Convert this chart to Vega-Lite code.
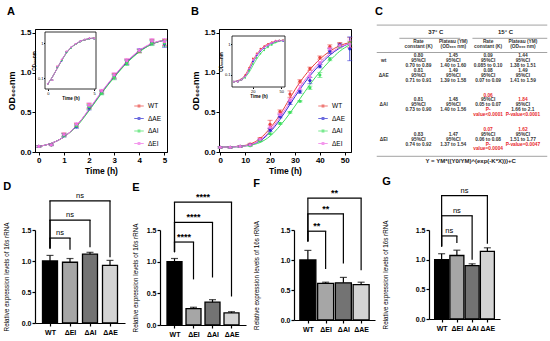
{
"$schema": "https://vega.github.io/schema/vega-lite/v6.json",
"padding": {"left": 3, "top": 5, "right": 0, "bottom": 0},
"config": {"font": "Liberation Sans", "view": {"stroke": null}, "axis": {"grid": false, "domainColor": "#000", "tickColor": "#000", "labelColor": "#000", "titleColor": "#000", "labelFont": "Liberation Sans", "titleFont": "Liberation Sans"}, "title": {"color": "#000", "font": "Liberation Sans"}, "legend": {"labelFont": "Liberation Sans"}},
"datasets": {
"fitA": [
{"strain":"WT","t":0,"od":0.07},{"strain":"WT","t":0.5,"od":0.11},{"strain":"WT","t":1,"od":0.19},{"strain":"WT","t":1.5,"od":0.33},{"strain":"WT","t":2,"od":0.53},{"strain":"WT","t":2.5,"od":0.75},{"strain":"WT","t":3,"od":0.95},{"strain":"WT","t":3.5,"od":1.13},{"strain":"WT","t":4,"od":1.27},{"strain":"WT","t":4.5,"od":1.36},{"strain":"WT","t":5,"od":1.41},
{"strain":"ΔAE","t":0,"od":0.07},{"strain":"ΔAE","t":0.5,"od":0.11},{"strain":"ΔAE","t":1,"od":0.19},{"strain":"ΔAE","t":1.5,"od":0.33},{"strain":"ΔAE","t":2,"od":0.53},{"strain":"ΔAE","t":2.5,"od":0.75},{"strain":"ΔAE","t":3,"od":0.95},{"strain":"ΔAE","t":3.5,"od":1.13},{"strain":"ΔAE","t":4,"od":1.27},{"strain":"ΔAE","t":4.5,"od":1.36},{"strain":"ΔAE","t":5,"od":1.41},
{"strain":"ΔAI","t":0,"od":0.07},{"strain":"ΔAI","t":0.5,"od":0.11},{"strain":"ΔAI","t":1,"od":0.19},{"strain":"ΔAI","t":1.5,"od":0.32},{"strain":"ΔAI","t":2,"od":0.52},{"strain":"ΔAI","t":2.5,"od":0.74},{"strain":"ΔAI","t":3,"od":0.94},{"strain":"ΔAI","t":3.5,"od":1.12},{"strain":"ΔAI","t":4,"od":1.26},{"strain":"ΔAI","t":4.5,"od":1.36},{"strain":"ΔAI","t":5,"od":1.41},
{"strain":"ΔEI","t":0,"od":0.07},{"strain":"ΔEI","t":0.5,"od":0.11},{"strain":"ΔEI","t":1,"od":0.19},{"strain":"ΔEI","t":1.5,"od":0.33},{"strain":"ΔEI","t":2,"od":0.54},{"strain":"ΔEI","t":2.5,"od":0.76},{"strain":"ΔEI","t":3,"od":0.96},{"strain":"ΔEI","t":3.5,"od":1.14},{"strain":"ΔEI","t":4,"od":1.28},{"strain":"ΔEI","t":4.5,"od":1.37},{"strain":"ΔEI","t":5,"od":1.41}
],
"ptsA": [
{"strain":"WT","t":0,"od":0.07,"err":0.01},{"strain":"WT","t":0.5,"od":0.09,"err":0.01},{"strain":"WT","t":1,"od":0.22,"err":0.02},{"strain":"WT","t":1.5,"od":0.34,"err":0.02},{"strain":"WT","t":2,"od":0.58,"err":0.03},{"strain":"WT","t":2.5,"od":0.76,"err":0.02},{"strain":"WT","t":3,"od":0.96,"err":0.03},{"strain":"WT","t":3.5,"od":1.14,"err":0.03},{"strain":"WT","t":4,"od":1.27,"err":0.02},{"strain":"WT","t":4.5,"od":1.39,"err":0.03},{"strain":"WT","t":5,"od":1.38,"err":0.04},
{"strain":"ΔAE","t":0,"od":0.07,"err":0.01},{"strain":"ΔAE","t":0.5,"od":0.09,"err":0.01},{"strain":"ΔAE","t":1,"od":0.21,"err":0.02},{"strain":"ΔAE","t":1.5,"od":0.32,"err":0.02},{"strain":"ΔAE","t":2,"od":0.56,"err":0.03},{"strain":"ΔAE","t":2.5,"od":0.75,"err":0.02},{"strain":"ΔAE","t":3,"od":0.95,"err":0.03},{"strain":"ΔAE","t":3.5,"od":1.13,"err":0.03},{"strain":"ΔAE","t":4,"od":1.28,"err":0.02},{"strain":"ΔAE","t":4.5,"od":1.38,"err":0.03},{"strain":"ΔAE","t":5,"od":1.36,"err":0.04},
{"strain":"ΔAI","t":0,"od":0.07,"err":0.01},{"strain":"ΔAI","t":0.5,"od":0.09,"err":0.01},{"strain":"ΔAI","t":1,"od":0.21,"err":0.02},{"strain":"ΔAI","t":1.5,"od":0.33,"err":0.02},{"strain":"ΔAI","t":2,"od":0.57,"err":0.03},{"strain":"ΔAI","t":2.5,"od":0.74,"err":0.02},{"strain":"ΔAI","t":3,"od":0.94,"err":0.03},{"strain":"ΔAI","t":3.5,"od":1.12,"err":0.03},{"strain":"ΔAI","t":4,"od":1.27,"err":0.02},{"strain":"ΔAI","t":4.5,"od":1.37,"err":0.03},{"strain":"ΔAI","t":5,"od":1.37,"err":0.04},
{"strain":"ΔEI","t":0,"od":0.07,"err":0.01},{"strain":"ΔEI","t":0.5,"od":0.09,"err":0.01},{"strain":"ΔEI","t":1,"od":0.22,"err":0.02},{"strain":"ΔEI","t":1.5,"od":0.35,"err":0.02},{"strain":"ΔEI","t":2,"od":0.59,"err":0.03},{"strain":"ΔEI","t":2.5,"od":0.77,"err":0.02},{"strain":"ΔEI","t":3,"od":0.97,"err":0.03},{"strain":"ΔEI","t":3.5,"od":1.15,"err":0.03},{"strain":"ΔEI","t":4,"od":1.28,"err":0.02},{"strain":"ΔEI","t":4.5,"od":1.4,"err":0.03},{"strain":"ΔEI","t":5,"od":1.39,"err":0.04}
],
"fitB": [
{"strain":"WT","t":0,"od":0.06},{"strain":"WT","t":4,"od":0.065},{"strain":"WT","t":8,"od":0.075},{"strain":"WT","t":12,"od":0.1},{"strain":"WT","t":16,"od":0.17},{"strain":"WT","t":20,"od":0.3},{"strain":"WT","t":24,"od":0.47},{"strain":"WT","t":28,"od":0.68},{"strain":"WT","t":32,"od":0.88},{"strain":"WT","t":36,"od":1.04},{"strain":"WT","t":40,"od":1.17},{"strain":"WT","t":44,"od":1.27},{"strain":"WT","t":48,"od":1.34},{"strain":"WT","t":52,"od":1.38},
{"strain":"ΔAE","t":0,"od":0.06},{"strain":"ΔAE","t":4,"od":0.063},{"strain":"ΔAE","t":8,"od":0.07},{"strain":"ΔAE","t":12,"od":0.09},{"strain":"ΔAE","t":16,"od":0.14},{"strain":"ΔAE","t":20,"od":0.25},{"strain":"ΔAE","t":24,"od":0.41},{"strain":"ΔAE","t":28,"od":0.6},{"strain":"ΔAE","t":32,"od":0.79},{"strain":"ΔAE","t":36,"od":0.96},{"strain":"ΔAE","t":40,"od":1.1},{"strain":"ΔAE","t":44,"od":1.22},{"strain":"ΔAE","t":48,"od":1.31},{"strain":"ΔAE","t":52,"od":1.37},
{"strain":"ΔAI","t":0,"od":0.06},{"strain":"ΔAI","t":4,"od":0.062},{"strain":"ΔAI","t":8,"od":0.068},{"strain":"ΔAI","t":12,"od":0.085},{"strain":"ΔAI","t":16,"od":0.12},{"strain":"ΔAI","t":20,"od":0.2},{"strain":"ΔAI","t":24,"od":0.33},{"strain":"ΔAI","t":28,"od":0.49},{"strain":"ΔAI","t":32,"od":0.67},{"strain":"ΔAI","t":36,"od":0.85},{"strain":"ΔAI","t":40,"od":1.01},{"strain":"ΔAI","t":44,"od":1.15},{"strain":"ΔAI","t":48,"od":1.27},{"strain":"ΔAI","t":52,"od":1.35},
{"strain":"ΔEI","t":0,"od":0.06},{"strain":"ΔEI","t":4,"od":0.063},{"strain":"ΔEI","t":8,"od":0.07},{"strain":"ΔEI","t":12,"od":0.09},{"strain":"ΔEI","t":16,"od":0.15},{"strain":"ΔEI","t":20,"od":0.27},{"strain":"ΔEI","t":24,"od":0.44},{"strain":"ΔEI","t":28,"od":0.63},{"strain":"ΔEI","t":32,"od":0.82},{"strain":"ΔEI","t":36,"od":0.99},{"strain":"ΔEI","t":40,"od":1.13},{"strain":"ΔEI","t":44,"od":1.24},{"strain":"ΔEI","t":48,"od":1.32},{"strain":"ΔEI","t":52,"od":1.37}
],
"ptsB": [
{"strain":"WT","t":0,"od":0.06,"err":0.01},{"strain":"WT","t":4,"od":0.06,"err":0.01},{"strain":"WT","t":8,"od":0.07,"err":0.01},{"strain":"WT","t":12,"od":0.1,"err":0.01},{"strain":"WT","t":16,"od":0.17,"err":0.01},{"strain":"WT","t":20,"od":0.35,"err":0.05},{"strain":"WT","t":24,"od":0.51,"err":0.02},{"strain":"WT","t":28,"od":0.73,"err":0.04},{"strain":"WT","t":32,"od":0.89,"err":0.02},{"strain":"WT","t":36,"od":1.05,"err":0.02},{"strain":"WT","t":40,"od":1.19,"err":0.02},{"strain":"WT","t":44,"od":1.33,"err":0.02},{"strain":"WT","t":48,"od":1.36,"err":0.02},{"strain":"WT","t":52,"od":1.38,"err":0.06},
{"strain":"ΔAE","t":0,"od":0.06,"err":0.01},{"strain":"ΔAE","t":4,"od":0.06,"err":0.01},{"strain":"ΔAE","t":8,"od":0.07,"err":0.01},{"strain":"ΔAE","t":12,"od":0.09,"err":0.01},{"strain":"ΔAE","t":16,"od":0.15,"err":0.01},{"strain":"ΔAE","t":20,"od":0.28,"err":0.02},{"strain":"ΔAE","t":24,"od":0.45,"err":0.02},{"strain":"ΔAE","t":28,"od":0.62,"err":0.02},{"strain":"ΔAE","t":32,"od":0.76,"err":0.02},{"strain":"ΔAE","t":36,"od":0.9,"err":0.04},{"strain":"ΔAE","t":40,"od":1.08,"err":0.02},{"strain":"ΔAE","t":44,"od":1.27,"err":0.03},{"strain":"ΔAE","t":48,"od":1.35,"err":0.02},{"strain":"ΔAE","t":52,"od":1.3,"err":0.15},
{"strain":"ΔAI","t":0,"od":0.06,"err":0.01},{"strain":"ΔAI","t":4,"od":0.06,"err":0.01},{"strain":"ΔAI","t":8,"od":0.07,"err":0.01},{"strain":"ΔAI","t":12,"od":0.08,"err":0.01},{"strain":"ΔAI","t":16,"od":0.14,"err":0.01},{"strain":"ΔAI","t":20,"od":0.23,"err":0.01},{"strain":"ΔAI","t":24,"od":0.36,"err":0.01},{"strain":"ΔAI","t":28,"od":0.5,"err":0.01},{"strain":"ΔAI","t":32,"od":0.64,"err":0.01},{"strain":"ΔAI","t":36,"od":0.81,"err":0.02},{"strain":"ΔAI","t":40,"od":0.97,"err":0.03},{"strain":"ΔAI","t":44,"od":1.17,"err":0.02},{"strain":"ΔAI","t":48,"od":1.33,"err":0.02},{"strain":"ΔAI","t":52,"od":1.37,"err":0.02},
{"strain":"ΔEI","t":0,"od":0.06,"err":0.01},{"strain":"ΔEI","t":4,"od":0.06,"err":0.01},{"strain":"ΔEI","t":8,"od":0.07,"err":0.01},{"strain":"ΔEI","t":12,"od":0.09,"err":0.01},{"strain":"ΔEI","t":16,"od":0.16,"err":0.01},{"strain":"ΔEI","t":20,"od":0.31,"err":0.02},{"strain":"ΔEI","t":24,"od":0.47,"err":0.02},{"strain":"ΔEI","t":28,"od":0.65,"err":0.02},{"strain":"ΔEI","t":32,"od":0.8,"err":0.04},{"strain":"ΔEI","t":36,"od":0.95,"err":0.05},{"strain":"ΔEI","t":40,"od":1.12,"err":0.02},{"strain":"ΔEI","t":44,"od":1.3,"err":0.02},{"strain":"ΔEI","t":48,"od":1.34,"err":0.02},{"strain":"ΔEI","t":52,"od":1.36,"err":0.05}
],
"tableText": [
{"col":1.5,"line":0,"txt":"37° C","kind":"head","sig":"no"},{"col":3.5,"line":0,"txt":"15° C","kind":"head","sig":"no"},
{"col":1,"line":2,"txt":"Rate","kind":"cell","sig":"no"},{"col":2,"line":2,"txt":"Plateau (YM)","kind":"cell","sig":"no"},{"col":3,"line":2,"txt":"Rate","kind":"cell","sig":"no"},{"col":4,"line":2,"txt":"Plateau (YM)","kind":"cell","sig":"no"},
{"col":1,"line":3,"txt":"constant (K)","kind":"cell","sig":"no"},{"col":2,"line":3,"txt":"(OD₆₀₀ nm)","kind":"cell","sig":"no"},{"col":3,"line":3,"txt":"constant (K)","kind":"cell","sig":"no"},{"col":4,"line":3,"txt":"(OD₆₀₀ nm)","kind":"cell","sig":"no"},
{"col":0,"line":6,"txt":"wt","kind":"cell","sig":"no"},
{"col":1,"line":5,"txt":"0.80","kind":"cell","sig":"no"},{"col":1,"line":6,"txt":"95%CI","kind":"cell","sig":"no"},{"col":1,"line":7,"txt":"0.70 to 0.89","kind":"cell","sig":"no"},
{"col":2,"line":5,"txt":"1.45","kind":"cell","sig":"no"},{"col":2,"line":6,"txt":"95%CI","kind":"cell","sig":"no"},{"col":2,"line":7,"txt":"1.40 to 1.60","kind":"cell","sig":"no"},
{"col":3,"line":5,"txt":"0.09","kind":"cell","sig":"no"},{"col":3,"line":6,"txt":"95%CI","kind":"cell","sig":"no"},{"col":3,"line":7,"txt":"0.085 to 0.10","kind":"cell","sig":"no"},
{"col":4,"line":5,"txt":"1.44","kind":"cell","sig":"no"},{"col":4,"line":6,"txt":"95%CI","kind":"cell","sig":"no"},{"col":4,"line":7,"txt":"1.38 to 1.51","kind":"cell","sig":"no"},
{"col":0,"line":9,"txt":"ΔAE","kind":"cell","sig":"no"},
{"col":1,"line":8,"txt":"0.81","kind":"cell","sig":"no"},{"col":1,"line":9,"txt":"95%CI","kind":"cell","sig":"no"},{"col":1,"line":10,"txt":"0.71 to 0.91","kind":"cell","sig":"no"},
{"col":2,"line":8,"txt":"1.49","kind":"cell","sig":"no"},{"col":2,"line":9,"txt":"95%CI","kind":"cell","sig":"no"},{"col":2,"line":10,"txt":"1.39 to 1.58","kind":"cell","sig":"no"},
{"col":3,"line":8,"txt":"0.08","kind":"cell","sig":"no"},{"col":3,"line":9,"txt":"95%CI","kind":"cell","sig":"no"},{"col":3,"line":10,"txt":"0.07 to 0.09","kind":"cell","sig":"no"},
{"col":4,"line":8,"txt":"1.49","kind":"cell","sig":"no"},{"col":4,"line":9,"txt":"95%CI","kind":"cell","sig":"no"},{"col":4,"line":10,"txt":"1.41 to 1.59","kind":"cell","sig":"no"},
{"col":0,"line":15,"txt":"ΔAI","kind":"cell","sig":"no"},
{"col":1,"line":14,"txt":"0.81","kind":"cell","sig":"no"},{"col":1,"line":15,"txt":"95%CI","kind":"cell","sig":"no"},{"col":1,"line":16,"txt":"0.73 to 0.90","kind":"cell","sig":"no"},
{"col":2,"line":14,"txt":"1.48","kind":"cell","sig":"no"},{"col":2,"line":15,"txt":"95%CI","kind":"cell","sig":"no"},{"col":2,"line":16,"txt":"1.40 to 1.56","kind":"cell","sig":"no"},
{"col":3,"line":13,"txt":"0.06","kind":"cell","sig":"yes"},{"col":3,"line":14,"txt":"95%CI","kind":"cell","sig":"no"},{"col":3,"line":15,"txt":"0.05 to 0.07","kind":"cell","sig":"no"},{"col":3,"line":16,"txt":"P-","kind":"cell","sig":"yes"},{"col":3,"line":17,"txt":"value<0.0001","kind":"cell","sig":"yes"},
{"col":4,"line":14,"txt":"1.84","kind":"cell","sig":"yes"},{"col":4,"line":15,"txt":"95%CI","kind":"cell","sig":"no"},{"col":4,"line":16,"txt":"1.66 to 2.1","kind":"cell","sig":"no"},{"col":4,"line":17,"txt":"P-value<0.0001","kind":"cell","sig":"yes"},
{"col":0,"line":22,"txt":"ΔEI","kind":"cell","sig":"no"},
{"col":1,"line":21,"txt":"0.83","kind":"cell","sig":"no"},{"col":1,"line":22,"txt":"95%CI","kind":"cell","sig":"no"},{"col":1,"line":23,"txt":"0.74 to 0.92","kind":"cell","sig":"no"},
{"col":2,"line":21,"txt":"1.47","kind":"cell","sig":"no"},{"col":2,"line":22,"txt":"95%CI","kind":"cell","sig":"no"},{"col":2,"line":23,"txt":"1.37 to 1.54","kind":"cell","sig":"no"},
{"col":3,"line":20,"txt":"0.07","kind":"cell","sig":"yes"},{"col":3,"line":21,"txt":"95%CI","kind":"cell","sig":"no"},{"col":3,"line":22,"txt":"0.06 to 0.08","kind":"cell","sig":"no"},{"col":3,"line":23,"txt":"P-","kind":"cell","sig":"yes"},{"col":3,"line":24,"txt":"value=0.0004","kind":"cell","sig":"yes"},
{"col":4,"line":20,"txt":"1.62","kind":"cell","sig":"yes"},{"col":4,"line":21,"txt":"95%CI","kind":"cell","sig":"no"},{"col":4,"line":22,"txt":"1.51 to 1.77","kind":"cell","sig":"no"},{"col":4,"line":23,"txt":"P-value=0.0047","kind":"cell","sig":"yes"},
{"col":2.5,"line":26.3,"txt":"Y = YM*((Y0/YM)^(exp(-K*X)))+C","kind":"head","sig":"no"}
],
"tableLines": [
{"c0":-0.2,"c1":4.7,"line":-1.4},{"c0":0.45,"c1":2.2,"line":1.3},{"c0":2.55,"c1":4.7,"line":1.3},{"c0":-0.2,"c1":4.7,"line":4.2},{"c0":-0.2,"c1":4.7,"line":25.4}
],
"panelD": [
{"kind":"bar","pos":1,"strain":"WT","val":1.0,"val2":1.09},{"kind":"bar","pos":2,"strain":"ΔEI","val":0.98,"val2":1.04},{"kind":"bar","pos":3,"strain":"ΔAI","val":1.11,"val2":1.14},{"kind":"bar","pos":4,"strain":"ΔAE","val":0.93,"val2":1.01},
{"kind":"cap","pos":1,"val":1.09},{"kind":"cap","pos":2,"val":1.04},{"kind":"cap","pos":3,"val":1.14},{"kind":"cap","pos":4,"val":1.01},
{"kind":"hline","pos":1,"pos2":2,"val":1.37},{"kind":"hline","pos":1,"pos2":3,"val":1.66},{"kind":"hline","pos":1,"pos2":4,"val":1.97},
{"kind":"leg","pos":1,"val":1.37,"val2":1.2},{"kind":"leg","pos":2,"val":1.37,"val2":1.18},{"kind":"leg","pos":1,"val":1.66,"val2":1.2},{"kind":"leg","pos":3,"val":1.66,"val2":1.22},{"kind":"leg","pos":1,"val":1.97,"val2":1.2},{"kind":"leg","pos":4,"val":1.97,"val2":1.06},
{"kind":"lab","pos":1.5,"val":1.37,"label":"ns"},{"kind":"lab","pos":2,"val":1.66,"label":"ns"},{"kind":"lab","pos":2.5,"val":1.97,"label":"ns"}
],
"panelE": [
{"kind":"bar","pos":1,"strain":"WT","val":1.0,"val2":1.05},{"kind":"bar","pos":2,"strain":"ΔEI","val":0.26,"val2":0.28},{"kind":"bar","pos":3,"strain":"ΔAI","val":0.36,"val2":0.4},{"kind":"bar","pos":4,"strain":"ΔAE","val":0.19,"val2":0.21},
{"kind":"cap","pos":1,"val":1.05},{"kind":"cap","pos":2,"val":0.28},{"kind":"cap","pos":3,"val":0.4},{"kind":"cap","pos":4,"val":0.21},
{"kind":"hline","pos":1,"pos2":2,"val":1.31},{"kind":"hline","pos":1,"pos2":3,"val":1.62},{"kind":"hline","pos":1,"pos2":4,"val":1.94},
{"kind":"leg","pos":1,"val":1.31,"val2":1.15},{"kind":"leg","pos":2,"val":1.31,"val2":0.72},{"kind":"leg","pos":1,"val":1.62,"val2":1.15},{"kind":"leg","pos":3,"val":1.62,"val2":0.75},{"kind":"leg","pos":1,"val":1.94,"val2":1.15},{"kind":"leg","pos":4,"val":1.94,"val2":0.45},
{"kind":"lab","pos":1.5,"val":1.31,"label":"****"},{"kind":"lab","pos":2,"val":1.62,"label":"****"},{"kind":"lab","pos":2.5,"val":1.94,"label":"****"}
],
"panelF": [
{"kind":"bar","pos":1,"strain":"WT","val":1.0,"val2":1.16},{"kind":"bar","pos":2,"strain":"ΔEI","val":0.61,"val2":0.63},{"kind":"bar","pos":3,"strain":"ΔAI","val":0.62,"val2":0.71},{"kind":"bar","pos":4,"strain":"ΔAE","val":0.59,"val2":0.63},
{"kind":"cap","pos":1,"val":1.16},{"kind":"cap","pos":2,"val":0.63},{"kind":"cap","pos":3,"val":0.71},{"kind":"cap","pos":4,"val":0.63},
{"kind":"hline","pos":1,"pos2":2,"val":1.48},{"kind":"hline","pos":1,"pos2":3,"val":1.77},{"kind":"hline","pos":1,"pos2":4,"val":2.03},
{"kind":"leg","pos":1,"val":1.48,"val2":1.31},{"kind":"leg","pos":2,"val":1.48,"val2":0.85},{"kind":"leg","pos":1,"val":1.77,"val2":1.31},{"kind":"leg","pos":3,"val":1.77,"val2":0.94},{"kind":"leg","pos":1,"val":2.03,"val2":1.31},{"kind":"leg","pos":4,"val":2.03,"val2":0.83},
{"kind":"lab","pos":1.5,"val":1.48,"label":"**"},{"kind":"lab","pos":2,"val":1.77,"label":"**"},{"kind":"lab","pos":2.5,"val":2.03,"label":"**"}
],
"panelG": [
{"kind":"bar","pos":1,"strain":"WT","val":1.0,"val2":1.1},{"kind":"bar","pos":2,"strain":"ΔEI","val":1.07,"val2":1.16},{"kind":"bar","pos":3,"strain":"ΔAI","val":0.9,"val2":0.93},{"kind":"bar","pos":4,"strain":"ΔAE","val":1.14,"val2":1.2},
{"kind":"cap","pos":1,"val":1.1},{"kind":"cap","pos":2,"val":1.16},{"kind":"cap","pos":3,"val":0.93},{"kind":"cap","pos":4,"val":1.2},
{"kind":"hline","pos":1,"pos2":2,"val":1.4},{"kind":"hline","pos":1,"pos2":3,"val":1.74},{"kind":"hline","pos":1,"pos2":4,"val":2.08},
{"kind":"leg","pos":1,"val":1.4,"val2":1.22},{"kind":"leg","pos":2,"val":1.4,"val2":1.28},{"kind":"leg","pos":1,"val":1.74,"val2":1.22},{"kind":"leg","pos":3,"val":1.74,"val2":1.0},{"kind":"leg","pos":1,"val":2.08,"val2":1.22},{"kind":"leg","pos":4,"val":2.08,"val2":1.27},
{"kind":"lab","pos":1.5,"val":1.4,"label":"ns"},{"kind":"lab","pos":2,"val":1.74,"label":"ns"},{"kind":"lab","pos":2.5,"val":2.08,"label":"ns"}
]
},
"resolve": {"scale": {"color": "independent"}},
"spacing": 0,
"vconcat": [
{
"spacing": 22,
"resolve": {"scale": {"color": "independent"}},
"hconcat": [
{
"width": 132, "height": 123,
"title": {"text": "A", "anchor": "start", "fontSize": 11, "fontWeight": "bold", "offset": 12},
"view": {"stroke": "black", "strokeWidth": 1},
"resolve": {"scale": {"x": "independent", "y": "independent"}},
"layer": [
{"encoding": {"x": {"field": "t", "type": "quantitative", "scale": {"domain": [-0.15, 5.1], "nice": false, "zero": false}, "axis": {"values": [0,1,2,3,4,5], "title": "Time (h)", "labelFontSize": 8, "labelFontWeight": "bold", "titleFontSize": 8.5, "titleFontWeight": "bold", "tickSize": 3, "labelPadding": 1, "titlePadding": 2}},
  "y": {"field": "od", "type": "quantitative", "scale": {"domain": [0, 1.55], "nice": false}, "axis": {"values": [0,0.5,1,1.5], "format": ".1f", "title": "OD₆₀₀nm", "labelFontSize": 8, "labelFontWeight": "bold", "titleFontSize": 9, "titleFontWeight": "bold", "tickSize": 3, "labelPadding": 1, "titleX": -19, "titleY": 61.5, "titleAngle": 270, "titleBaseline": "bottom", "titleAlign": "center"}}},
"layer": [
{"data": {"name": "fitA"}, "mark": {"type": "line", "interpolate": "monotone", "strokeWidth": 1},
 "encoding": {"color": {"field": "strain", "type": "nominal", "scale": {"domain": ["WT","ΔAE","ΔAI","ΔEI"], "range": ["#e8413c","#2d2dd2","#3fdf5f","#f06ee6"]}}}},
{"data": {"name": "ptsA"}, "mark": {"type": "errorbar", "ticks": true, "thickness": 0.8},
 "encoding": {"yError": {"field": "err"}, "color": {"field": "strain", "type": "nominal"}}},
{"data": {"name": "ptsA"}, "mark": {"type": "point", "filled": true, "size": 10, "opacity": 1},
 "encoding": {"color": {"field": "strain", "type": "nominal", "legend": {"orient": "bottom-right", "offset": 5, "title": null, "labelFontSize": 6.5, "symbolType": "M-1,-0.1H1V0.1H-1Z M-0.3,-0.3H0.3V0.3H-0.3Z", "symbolSize": 90, "symbolStrokeWidth": 0, "rowPadding": 3.5, "labelOffset": 4, "encode": {"labels": {"fill": {"value": {"expr": "datum.value == 'WT' ? '#e8413c' : datum.value == 'ΔAE' ? '#2d2dd2' : datum.value == 'ΔAI' ? '#3fdf5f' : '#f06ee6'"}}}}}}}}
]},
{"encoding": {"x": {"field": "t", "type": "quantitative", "scale": {"domain": [-0.3, 5.2], "range": [10, 61], "nice": false, "zero": false}, "axis": {"orient": "bottom", "offset": -63, "values": [0, 5], "title": "Time (h)", "labelFontSize": 4, "titleFontSize": 4.5, "tickSize": 1.5, "labelPadding": 0.5, "domain": false, "titleX": 35.5, "titleY": 6.5, "titleBaseline": "top", "titleAlign": "center", "titleAngle": 0}},
  "y": {"field": "od", "type": "quantitative", "scale": {"type": "log", "domain": [0.05, 2.1], "range": [60, 3], "nice": false}, "axis": {"orient": "left", "offset": -10, "values": [0.1, 1], "format": "~g", "title": "OD₆₀₀nm", "labelFontSize": 4, "titleFontSize": 4.5, "tickSize": 1.5, "labelPadding": 0.5, "domain": false, "titleX": -8.5, "titleY": 31.5, "titleAngle": 270, "titleBaseline": "bottom", "titleAlign": "center"}}},
"layer": [
{"data": {"values": [{"t": -0.3, "od": 0.05, "t2": 5.2, "od2": 2.1}]}, "mark": {"type": "rect", "fill": "white", "stroke": "black", "strokeWidth": 0.8},
 "encoding": {"x2": {"field": "t2"}, "y2": {"field": "od2"}}},
{"data": {"name": "fitA"}, "mark": {"type": "line", "interpolate": "monotone", "strokeWidth": 0.8},
 "encoding": {"color": {"field": "strain", "type": "nominal"}}},
{"data": {"name": "ptsA"}, "mark": {"type": "point", "filled": true, "size": 3, "opacity": 1},
 "encoding": {"color": {"field": "strain", "type": "nominal"}}}
]}
]
},
{
"width": 132, "height": 123,
"title": {"text": "B", "anchor": "start", "fontSize": 11, "fontWeight": "bold", "offset": 12},
"view": {"stroke": "black", "strokeWidth": 1},
"resolve": {"scale": {"x": "independent", "y": "independent"}},
"layer": [
{"encoding": {"x": {"field": "t", "type": "quantitative", "scale": {"domain": [-0.5, 52.5], "nice": false, "zero": false}, "axis": {"values": [0,10,20,30,40,50], "title": "Time (h)", "labelFontSize": 8, "labelFontWeight": "bold", "titleFontSize": 8.5, "titleFontWeight": "bold", "tickSize": 3, "labelPadding": 1, "titlePadding": 2}},
  "y": {"field": "od", "type": "quantitative", "scale": {"domain": [0, 1.55], "nice": false}, "axis": {"values": [0,0.5,1,1.5], "format": ".1f", "title": "OD₆₀₀nm", "labelFontSize": 8, "labelFontWeight": "bold", "titleFontSize": 9, "titleFontWeight": "bold", "tickSize": 3, "labelPadding": 1, "titleX": -19, "titleY": 61.5, "titleAngle": 270, "titleBaseline": "bottom", "titleAlign": "center"}}},
"layer": [
{"data": {"name": "fitB"}, "mark": {"type": "line", "interpolate": "monotone", "strokeWidth": 1},
 "encoding": {"color": {"field": "strain", "type": "nominal", "scale": {"domain": ["WT","ΔAE","ΔAI","ΔEI"], "range": ["#e8413c","#2d2dd2","#3fdf5f","#f06ee6"]}}}},
{"data": {"name": "ptsB"}, "mark": {"type": "errorbar", "ticks": true, "thickness": 0.8},
 "encoding": {"yError": {"field": "err"}, "color": {"field": "strain", "type": "nominal"}}},
{"data": {"name": "ptsB"}, "mark": {"type": "point", "filled": true, "size": 10, "opacity": 1},
 "encoding": {"color": {"field": "strain", "type": "nominal", "legend": {"orient": "bottom-right", "offset": 5, "title": null, "labelFontSize": 6.5, "symbolType": "M-1,-0.1H1V0.1H-1Z M-0.3,-0.3H0.3V0.3H-0.3Z", "symbolSize": 90, "symbolStrokeWidth": 0, "rowPadding": 3.5, "labelOffset": 4, "encode": {"labels": {"fill": {"value": {"expr": "datum.value == 'WT' ? '#e8413c' : datum.value == 'ΔAE' ? '#2d2dd2' : datum.value == 'ΔAI' ? '#3fdf5f' : '#f06ee6'"}}}}}}}}
]},
{"encoding": {"x": {"field": "t", "type": "quantitative", "scale": {"domain": [-2, 54], "range": [13, 66], "nice": false, "zero": false}, "axis": {"orient": "bottom", "offset": -65, "values": [20, 50], "title": "Time (h)", "labelFontSize": 4, "titleFontSize": 4.5, "tickSize": 1.5, "labelPadding": 0.5, "domain": false, "titleX": 39.5, "titleY": 6.5, "titleBaseline": "top", "titleAlign": "center", "titleAngle": 0}},
  "y": {"field": "od", "type": "quantitative", "scale": {"type": "log", "domain": [0.04, 1.9], "range": [58, 7], "nice": false}, "axis": {"orient": "left", "offset": -13, "values": [0.1, 1], "format": "~g", "title": "OD₆₀₀nm", "labelFontSize": 4, "titleFontSize": 4.5, "tickSize": 1.5, "labelPadding": 0.5, "domain": false, "titleX": -8.5, "titleY": 32.5, "titleAngle": 270, "titleBaseline": "bottom", "titleAlign": "center"}}},
"layer": [
{"data": {"values": [{"t": -2, "od": 0.04, "t2": 54, "od2": 1.9}]}, "mark": {"type": "rect", "fill": "white", "stroke": "black", "strokeWidth": 0.8},
 "encoding": {"x2": {"field": "t2"}, "y2": {"field": "od2"}}},
{"data": {"name": "fitB"}, "mark": {"type": "line", "interpolate": "monotone", "strokeWidth": 0.8},
 "encoding": {"color": {"field": "strain", "type": "nominal"}}},
{"data": {"name": "ptsB"}, "mark": {"type": "point", "filled": true, "size": 3, "opacity": 1},
 "encoding": {"color": {"field": "strain", "type": "nominal"}}}
]}
]
},
{
"width": 174, "height": 142,
"title": {"text": "C", "anchor": "start", "fontSize": 11, "fontWeight": "bold", "offset": 8},
"layer": [
{"data": {"name": "tableLines"}, "mark": {"type": "rule", "color": "#8c8c8c", "strokeWidth": 0.8},
 "encoding": {"x": {"field": "c0", "type": "quantitative", "scale": {"domain": [-0.25, 4.75], "nice": false, "zero": false}, "axis": null}, "x2": {"field": "c1"},
  "y": {"field": "line", "type": "quantitative", "scale": {"domain": [-0.6, 28.4], "reverse": true, "nice": false, "zero": false}, "axis": null}}},
{"data": {"name": "tableText"}, "transform": [{"filter": "datum.kind == 'cell'"}], "mark": {"type": "text", "fontSize": 4.8, "fontWeight": "bold"},
 "encoding": {"x": {"field": "col", "type": "quantitative", "axis": null},
  "y": {"field": "line", "type": "quantitative", "axis": null},
  "text": {"field": "txt"},
  "color": {"field": "sig", "type": "nominal", "scale": {"domain": ["no", "yes"], "range": ["#333333", "#e8282b"]}, "legend": null}}},
{"data": {"name": "tableText"}, "transform": [{"filter": "datum.kind == 'head'"}], "mark": {"type": "text", "fontSize": 6, "fontWeight": "bold", "color": "#222"},
 "encoding": {"x": {"field": "col", "type": "quantitative", "axis": null},
  "y": {"field": "line", "type": "quantitative", "axis": null},
  "text": {"field": "txt"}}}
]
}
]
},
{
"spacing": 7,
"resolve": {"scale": {"color": "independent"}},
"hconcat": [
{
"width": 90, "height": 93,
"data": {"name": "panelD"},
"title": {"text": "D", "anchor": "start", "fontSize": 11, "fontWeight": "bold", "offset": 0},
"encoding": {"x": {"field": "pos", "type": "quantitative", "scale": {"domain": [0.5, 4.5], "nice": false, "zero": false}, "axis": {"values": [1,2,3,4], "labelExpr": "['', 'WT', 'ΔEI', 'ΔAI', 'ΔAE'][datum.value]", "title": null, "labelFontSize": 7, "labelFontWeight": "bold", "tickSize": 3, "domainWidth": 1.2, "tickWidth": 1.2, "labelPadding": 2}},
  "y": {"field": "val", "type": "quantitative", "scale": {"domain": [0, 1.5], "nice": false}, "axis": {"values": [0,0.5,1,1.5], "format": ".1f", "title": "Relative expression levels of 16s rRNA", "labelFontSize": 7, "labelFontWeight": "bold", "labelOverlap": false, "labelBound": false, "titleFontSize": 6.3, "titleFontWeight": "normal", "tickSize": 3, "labelPadding": 1, "titlePadding": 12, "domainWidth": 1.2, "tickWidth": 1.2}}},
"layer": [
{"transform": [{"filter": "datum.kind == 'bar'"}], "mark": {"type": "bar", "orient": "vertical", "size": 15, "stroke": "black", "strokeWidth": 1.3},
 "encoding": {"color": {"field": "strain", "type": "nominal", "scale": {"domain": ["WT","ΔEI","ΔAI","ΔAE"], "range": ["#000000","#a6a6a6","#737373","#d4d4d4"]}, "legend": null}}},
{"transform": [{"filter": "datum.kind == 'bar'"}], "mark": {"type": "rule", "strokeWidth": 1.2, "color": "black"}, "encoding": {"y2": {"field": "val2"}}},
{"transform": [{"filter": "datum.kind == 'cap'"}], "mark": {"type": "tick", "orient": "horizontal", "size": 7, "thickness": 1.2, "color": "black"}},
{"transform": [{"filter": "datum.kind == 'hline'"}], "mark": {"type": "rule", "strokeWidth": 1.2, "color": "black", "strokeCap": "square"}, "encoding": {"x2": {"field": "pos2"}}},
{"transform": [{"filter": "datum.kind == 'leg'"}], "mark": {"type": "rule", "strokeWidth": 1.2, "color": "black"}, "encoding": {"y2": {"field": "val2"}}},
{"transform": [{"filter": "datum.kind == 'lab'"}], "mark": {"type": "text", "baseline": "bottom", "dy": -1, "fontSize": 7.5, "color": "black"}, "encoding": {"text": {"field": "label"}}}
]
},
{
"width": 86, "height": 95,
"data": {"name": "panelE"},
"title": {"text": "E", "anchor": "start", "fontSize": 11, "fontWeight": "bold", "offset": 0},
"encoding": {"x": {"field": "pos", "type": "quantitative", "scale": {"domain": [0.5, 4.5], "nice": false, "zero": false}, "axis": {"values": [1,2,3,4], "labelExpr": "['', 'WT', 'ΔEI', 'ΔAI', 'ΔAE'][datum.value]", "title": null, "labelFontSize": 7, "labelFontWeight": "bold", "tickSize": 3, "domainWidth": 1.2, "tickWidth": 1.2, "labelPadding": 2}},
  "y": {"field": "val", "type": "quantitative", "scale": {"domain": [0, 1.5], "nice": false}, "axis": {"values": [0,0.5,1,1.5], "format": ".1f", "title": "Relative expression levels of 16s rRNA", "labelFontSize": 7, "labelFontWeight": "bold", "labelOverlap": false, "labelBound": false, "titleFontSize": 6.3, "titleFontWeight": "normal", "tickSize": 3, "labelPadding": 1, "titlePadding": 8, "domainWidth": 1.2, "tickWidth": 1.2}}},
"layer": [
{"transform": [{"filter": "datum.kind == 'bar'"}], "mark": {"type": "bar", "orient": "vertical", "size": 15, "stroke": "black", "strokeWidth": 1.3},
 "encoding": {"color": {"field": "strain", "type": "nominal", "scale": {"domain": ["WT","ΔEI","ΔAI","ΔAE"], "range": ["#000000","#a6a6a6","#737373","#d4d4d4"]}, "legend": null}}},
{"transform": [{"filter": "datum.kind == 'bar'"}], "mark": {"type": "rule", "strokeWidth": 1.2, "color": "black"}, "encoding": {"y2": {"field": "val2"}}},
{"transform": [{"filter": "datum.kind == 'cap'"}], "mark": {"type": "tick", "orient": "horizontal", "size": 7, "thickness": 1.2, "color": "black"}},
{"transform": [{"filter": "datum.kind == 'hline'"}], "mark": {"type": "rule", "strokeWidth": 1.2, "color": "black", "strokeCap": "square"}, "encoding": {"x2": {"field": "pos2"}}},
{"transform": [{"filter": "datum.kind == 'leg'"}], "mark": {"type": "rule", "strokeWidth": 1.2, "color": "black"}, "encoding": {"y2": {"field": "val2"}}},
{"transform": [{"filter": "datum.kind == 'lab'"}], "mark": {"type": "text", "baseline": "middle", "dy": -5, "fontSize": 9, "fontWeight": "bold", "color": "black"}, "encoding": {"text": {"field": "label"}}}
]
},
{
"width": 81, "height": 90,
"data": {"name": "panelF"},
"title": {"text": "F", "anchor": "start", "fontSize": 11, "fontWeight": "bold", "offset": 0},
"encoding": {"x": {"field": "pos", "type": "quantitative", "scale": {"domain": [0.5, 4.5], "nice": false, "zero": false}, "axis": {"values": [1,2,3,4], "labelExpr": "['', 'WT', 'ΔEI', 'ΔAI', 'ΔAE'][datum.value]", "title": null, "labelFontSize": 7, "labelFontWeight": "bold", "tickSize": 3, "domainWidth": 1.2, "tickWidth": 1.2, "labelPadding": 2}},
  "y": {"field": "val", "type": "quantitative", "scale": {"domain": [0, 1.5], "nice": false}, "axis": {"values": [0,0.5,1,1.5], "format": ".1f", "title": "Relative expression levels of 16s rRNA", "labelFontSize": 7, "labelFontWeight": "bold", "labelOverlap": false, "labelBound": false, "titleFontSize": 6.3, "titleFontWeight": "normal", "tickSize": 3, "labelPadding": 1, "titlePadding": 21, "domainWidth": 1.2, "tickWidth": 1.2}}},
"layer": [
{"transform": [{"filter": "datum.kind == 'bar'"}], "mark": {"type": "bar", "orient": "vertical", "size": 16, "stroke": "black", "strokeWidth": 1.3},
 "encoding": {"color": {"field": "strain", "type": "nominal", "scale": {"domain": ["WT","ΔEI","ΔAI","ΔAE"], "range": ["#000000","#a6a6a6","#737373","#d4d4d4"]}, "legend": null}}},
{"transform": [{"filter": "datum.kind == 'bar'"}], "mark": {"type": "rule", "strokeWidth": 1.2, "color": "black"}, "encoding": {"y2": {"field": "val2"}}},
{"transform": [{"filter": "datum.kind == 'cap'"}], "mark": {"type": "tick", "orient": "horizontal", "size": 7, "thickness": 1.2, "color": "black"}},
{"transform": [{"filter": "datum.kind == 'hline'"}], "mark": {"type": "rule", "strokeWidth": 1.2, "color": "black", "strokeCap": "square"}, "encoding": {"x2": {"field": "pos2"}}},
{"transform": [{"filter": "datum.kind == 'leg'"}], "mark": {"type": "rule", "strokeWidth": 1.2, "color": "black"}, "encoding": {"y2": {"field": "val2"}}},
{"transform": [{"filter": "datum.kind == 'lab'"}], "mark": {"type": "text", "baseline": "middle", "dy": -5, "fontSize": 9, "fontWeight": "bold", "color": "black"}, "encoding": {"text": {"field": "label"}}}
]
},
{
"width": 71, "height": 89,
"data": {"name": "panelG"},
"title": {"text": "G", "anchor": "start", "fontSize": 11, "fontWeight": "bold", "offset": 0},
"encoding": {"x": {"field": "pos", "type": "quantitative", "scale": {"domain": [0.5, 4.5], "nice": false, "zero": false}, "axis": {"values": [1,2,3,4], "labelExpr": "['', 'WT', 'ΔEI', 'ΔAI', 'ΔAE'][datum.value]", "title": null, "labelFontSize": 7, "labelFontWeight": "bold", "tickSize": 3, "domainWidth": 1.2, "tickWidth": 1.2, "labelPadding": 2}},
  "y": {"field": "val", "type": "quantitative", "scale": {"domain": [0, 1.5], "nice": false}, "axis": {"values": [0,0.5,1,1.5], "format": ".1f", "title": "Relative expression levels of 16s rRNA", "labelFontSize": 7, "labelFontWeight": "bold", "labelOverlap": false, "labelBound": false, "titleFontSize": 6.3, "titleFontWeight": "normal", "tickSize": 3, "labelPadding": 1, "titlePadding": 27, "domainWidth": 1.2, "tickWidth": 1.2}}},
"layer": [
{"transform": [{"filter": "datum.kind == 'bar'"}], "mark": {"type": "bar", "orient": "vertical", "size": 14, "stroke": "black", "strokeWidth": 1.3},
 "encoding": {"color": {"field": "strain", "type": "nominal", "scale": {"domain": ["WT","ΔEI","ΔAI","ΔAE"], "range": ["#000000","#a6a6a6","#737373","#d4d4d4"]}, "legend": null}}},
{"transform": [{"filter": "datum.kind == 'bar'"}], "mark": {"type": "rule", "strokeWidth": 1.2, "color": "black"}, "encoding": {"y2": {"field": "val2"}}},
{"transform": [{"filter": "datum.kind == 'cap'"}], "mark": {"type": "tick", "orient": "horizontal", "size": 7, "thickness": 1.2, "color": "black"}},
{"transform": [{"filter": "datum.kind == 'hline'"}], "mark": {"type": "rule", "strokeWidth": 1.2, "color": "black", "strokeCap": "square"}, "encoding": {"x2": {"field": "pos2"}}},
{"transform": [{"filter": "datum.kind == 'leg'"}], "mark": {"type": "rule", "strokeWidth": 1.2, "color": "black"}, "encoding": {"y2": {"field": "val2"}}},
{"transform": [{"filter": "datum.kind == 'lab'"}], "mark": {"type": "text", "baseline": "bottom", "dy": -1, "fontSize": 7.5, "color": "black"}, "encoding": {"text": {"field": "label"}}}
]
}
]
}
]
}
